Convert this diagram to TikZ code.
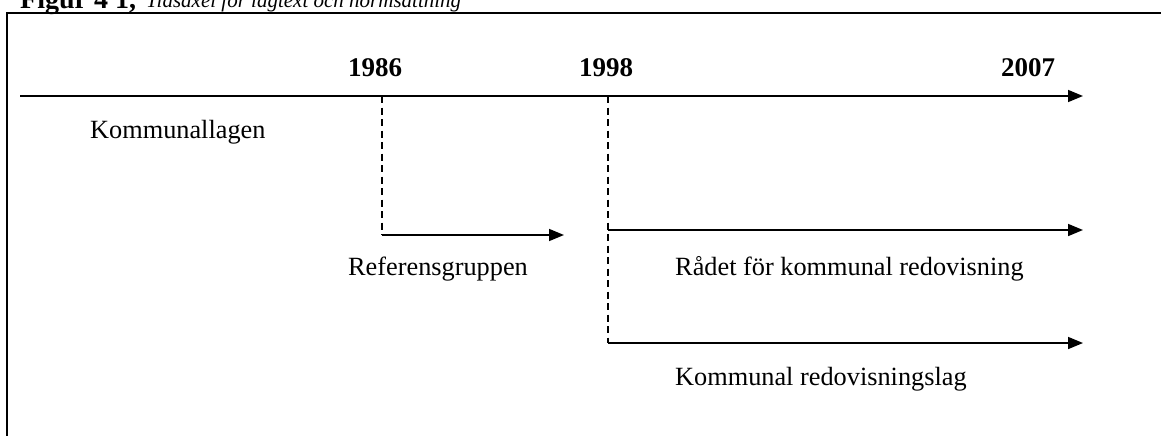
\documentclass[tikz,border=0pt]{standalone}
\usepackage{fontspec}
\setmainfont{Liberation Serif}
\usetikzlibrary{arrows.meta}
\begin{document}
\begin{tikzpicture}[x=1pt,y=-1pt,
  lbl/.style={inner sep=0pt,anchor=base west,font=\fontsize{26.3}{30}\selectfont},
  yr/.style={inner sep=0pt,anchor=base,font=\fontsize{27}{30}\selectfont\bfseries},
  axis/.style={line width=1.6pt,-{Triangle[length=15pt,width=12pt]}},
  dashline/.style={line width=1.5pt,dash pattern=on 7pt off 4.5pt}]
\useasboundingbox (0,0) rectangle (1161,436);
\clip (0,0) rectangle (1161,436);
% frame
\draw[line width=2.5pt] (7,1200) -- (7,13) -- (1200,13);
% title (cut off)
\node[inner sep=0pt,anchor=base west,font=\fontsize{28}{32}\selectfont\bfseries] (title) at (20,9) {Figur 4 1,};
\node[inner sep=0pt,anchor=base west,font=\fontsize{21}{24}\selectfont\itshape] (subtitle) at (146,8) {Tidsaxel för lagtext och normsättning};
% main axis
\coordinate (a0) at (20,96);
\coordinate (a1) at (1083,96);
\draw[axis] (a0) -- (a1);
% years
\node[yr] (y86) at (375,76) {1986};
\node[yr] (y98) at (606,76) {1998};
\node[yr] (y07) at (1028,76) {2007};
% Kommunallagen
\node[lbl] (kl) at (90,138) {Kommunallagen};
% 1986 branch
\coordinate (b0) at (382,96);
\coordinate (b1) at (382,235);
\coordinate (b2) at (564,235);
\draw[dashline] (b0) -- (b1);
\draw[axis] (b1) -- (b2);
\node[lbl] (ref) at (348,275) {Referensgruppen};
% 1998 branches
\coordinate (c0) at (608,96);
\coordinate (c1) at (608,230);
\coordinate (c2) at (608,343);
\coordinate (c1e) at (1083,230);
\coordinate (c2e) at (1083,343);
\draw[dashline] (c0) -- (c2);
\draw[axis] (c1) -- (c1e);
\draw[axis] (c2) -- (c2e);
\node[lbl] (rad) at (675,275) {Rådet för kommunal redovisning};
\node[lbl] (krl) at (675,385) {Kommunal redovisningslag};
\end{tikzpicture}
\end{document}
